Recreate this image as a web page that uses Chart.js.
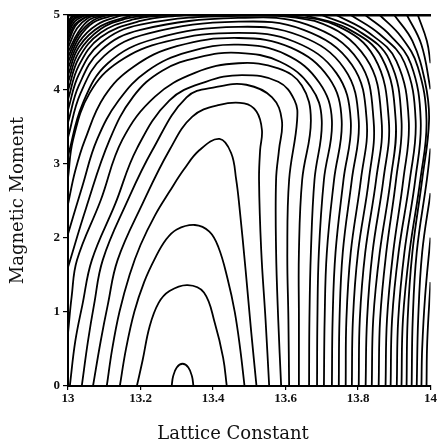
<!DOCTYPE html>
<html>
<head>
<meta charset="utf-8">
<script src="https://cdn.jsdelivr.net/npm/chart.js@4.4.0/dist/chart.umd.min.js"></script>
<style>
    html, body { margin: 0; padding: 0; background: #fff; }
</style>
</head>
<body>
<canvas id="contourChart" width="438" height="447"></canvas>
<script>
// 축 눈금
var xTickLabels = ['13', '13.2', '13.4', '13.6', '13.8', '14'];
var yTickLabels = ['0', '1', '2', '3', '4', '5'];
var xTitle = 'Lattice Constant';
var yTitle = 'Magnetic Moment';

// 등고선 [lattice constant, magnetic moment]
var c1 = [[13.286,0],[13.29,0.13],[13.30,0.25],[13.316,0.30],[13.332,0.25],[13.342,0.13],[13.346,0]];
var c2 = [[13.19,0],[13.206,0.35],[13.225,0.8],[13.25,1.12],[13.28,1.28],[13.33,1.36],[13.375,1.26],[13.405,0.85],[13.428,0.38],[13.438,0]];
var c3 = [[13.143,0],[13.16,0.5],[13.183,1.0],[13.21,1.4],[13.24,1.72],[13.27,1.97],[13.3,2.11],[13.35,2.17],[13.39,2.08],[13.415,1.87],[13.44,1.45],[13.46,1.0],[13.475,0.5],[13.487,0]];
var c4 = [[13.107,0],[13.122,0.5],[13.142,1.0],[13.17,1.5],[13.2,1.9],[13.24,2.3],[13.28,2.62],[13.32,2.92],[13.363,3.18],[13.418,3.33],[13.45,3.14],[13.464,2.78],[13.473,2.41],[13.49,1.56],[13.505,0.75],[13.52,0]];
var c5 = [[13.069,0],[13.09,0.6],[13.11,1.1],[13.137,1.7],[13.205,2.45],[13.28,3.18],[13.343,3.63],[13.418,3.79],[13.486,3.81],[13.52,3.7],[13.535,3.45],[13.53,3.18],[13.527,2.78],[13.533,1.83],[13.545,0.89],[13.555,0]];
var c6 = [[13.038,0],[13.055,0.6],[13.072,1.1],[13.096,1.7],[13.16,2.45],[13.233,3.18],[13.327,3.89],[13.41,4.03],[13.492,4.06],[13.563,3.89],[13.59,3.58],[13.582,3.18],[13.574,2.78],[13.574,1.83],[13.58,0.89],[13.588,0]];
var c7 = [[13.005,0],[13.02,0.6],[13.04,1.1],[13.066,1.7],[13.13,2.45],[13.19,3.2],[13.28,3.85],[13.38,4.1],[13.48,4.19],[13.58,4.1],[13.625,3.85],[13.632,3.58],[13.61,2.78],[13.605,1.8],[13.608,0.9],[13.61,0]];
var c8 = [[13.0,0.71],[13.01,1.2],[13.025,1.7],[13.09,2.5],[13.15,3.32],[13.24,3.9],[13.35,4.22],[13.47,4.35],[13.58,4.28],[13.645,4.05],[13.67,3.58],[13.646,2.78],[13.637,1.8],[13.637,0.9],[13.637,0]];
var c9 = [[13.0,1.6],[13.05,2.4],[13.115,3.32],[13.18,3.9],[13.26,4.25],[13.36,4.43],[13.47,4.49],[13.585,4.37],[13.67,4.03],[13.70,3.58],[13.68,2.78],[13.67,1.8],[13.666,0.9],[13.665,0]];
var c10 = [[13.0,2.05],[13.04,2.7],[13.08,3.32],[13.14,3.85],[13.22,4.25],[13.33,4.5],[13.47,4.6],[13.6,4.47],[13.693,4.09],[13.728,3.58],[13.706,2.78],[13.692,1.8],[13.688,0.9],[13.687,0]];
var c11 = [[13.0,2.45],[13.02,2.9],[13.047,3.32],[13.1,3.9],[13.18,4.3],[13.3,4.58],[13.47,4.69],[13.615,4.56],[13.72,4.15],[13.755,3.58],[13.734,2.78],[13.714,1.8],[13.708,0.9],[13.706,0]];
var c12 = [[13.0,2.8],[13.014,3.32],[13.06,3.95],[13.14,4.37],[13.27,4.64],[13.47,4.76],[13.625,4.64],[13.74,4.22],[13.78,3.58],[13.76,2.78],[13.738,1.8],[13.73,0.9],[13.728,0]];
var c13 = [[13.0,3.1],[13.04,3.8],[13.11,4.35],[13.24,4.68],[13.47,4.84],[13.64,4.72],[13.762,4.28],[13.802,3.58],[13.783,2.78],[13.758,1.8],[13.749,0.9],[13.747,0]];
var c14 = [[13.0,3.35],[13.035,3.95],[13.1,4.45],[13.22,4.75],[13.47,4.91],[13.65,4.8],[13.783,4.33],[13.824,3.58],[13.808,2.78],[13.78,1.8],[13.768,0.9],[13.766,0]];
var c15 = [[13.0,3.55],[13.03,4.05],[13.09,4.52],[13.2,4.8],[13.47,4.96],[13.66,4.87],[13.802,4.38],[13.843,3.58],[13.83,2.78],[13.8,1.8],[13.786,0.9],[13.783,0]];
var c16 = [[13.0,3.72],[13.03,4.2],[13.09,4.62],[13.2,4.87],[13.47,4.99],[13.68,4.92],[13.822,4.42],[13.865,3.58],[13.85,2.78],[13.82,1.8],[13.805,0.9],[13.802,0]];

// 위쪽 경계에서 끊기는 등고선
var c17Left = [[13.0,3.86],[13.03,4.32],[13.09,4.7],[13.2,4.92],[13.32,5.0]];
var c17Right = [[13.6,5.0],[13.74,4.86],[13.845,4.43],[13.885,3.58],[13.87,2.78],[13.84,1.8],[13.825,0.9],[13.821,0]];
var c18Left = [[13.0,3.98],[13.03,4.42],[13.09,4.76],[13.18,4.94],[13.27,5.0]];
var c18Right = [[13.65,5.0],[13.77,4.82],[13.866,4.42],[13.904,3.58],[13.89,2.78],[13.86,1.8],[13.842,0.9],[13.838,0]];
var c19Left = [[13.0,4.09],[13.03,4.5],[13.09,4.81],[13.16,4.95],[13.23,5.0]];
var c19Right = [[13.7,5.0],[13.8,4.79],[13.886,4.4],[13.92,3.58],[13.905,2.78],[13.878,1.8],[13.861,0.9],[13.857,0]];
var c20Left = [[13.0,4.19],[13.03,4.57],[13.09,4.85],[13.18,5.0]];
var c20Right = [[13.74,5.0],[13.83,4.76],[13.906,4.38],[13.94,3.58],[13.925,2.78],[13.897,1.8],[13.88,0.9],[13.876,0]];
var c21Left = [[13.0,4.28],[13.03,4.63],[13.08,4.87],[13.15,5.0]];
var c21Right = [[13.78,5.0],[13.86,4.74],[13.928,4.36],[13.959,3.58],[13.943,2.78],[13.912,1.8],[13.894,0.9],[13.89,0]];
var c22Left = [[13.0,4.36],[13.03,4.69],[13.07,4.9],[13.13,5.0]];
var c22Right = [[13.82,5.0],[13.89,4.72],[13.946,4.34],[13.973,3.58],[13.958,2.78],[13.928,1.8],[13.911,0.9],[13.907,0]];
var c23Left = [[13.0,4.43],[13.03,4.74],[13.07,4.93],[13.11,5.0]];
var c23Right = [[13.86,5.0],[13.92,4.7],[13.965,4.3],[13.989,3.58],[13.972,2.78],[13.942,1.8],[13.924,0.9],[13.92,0]];
var c24Left = [[13.0,4.5],[13.03,4.78],[13.06,4.94],[13.1,5.0]];
var c24Right = [[13.9,5.0],[13.95,4.65],[13.985,4.1],[13.996,3.58],[13.977,2.78],[13.95,1.8],[13.937,0.9],[13.934,0]];
var c25Left = [[13.0,4.56],[13.025,4.82],[13.055,4.96],[13.085,5.0]];
var c25Right = [[13.935,5.0],[13.975,4.6],[14.0,4.0]];
var c25Low = [[14.0,3.2],[13.99,2.78],[13.962,1.8],[13.951,0.9],[13.948,0]];
var c26Left = [[13.0,4.62],[13.02,4.85],[13.045,4.96],[13.07,5.0]];
var c26Right = [[13.965,5.0],[13.99,4.65],[14.0,4.35]];
var c26Low = [[14.0,2.6],[13.977,1.8],[13.966,0.9],[13.962,0]];
var c27Left = [[13.0,4.67],[13.02,4.88],[13.06,5.0]];
var c27Low = [[14.0,2.0],[13.985,1.2],[13.977,0.5],[13.975,0]];
var c28Left = [[13.0,4.72],[13.018,4.91],[13.05,5.0]];
var c28Low = [[14.0,1.4],[13.991,0.6],[13.989,0]];
var c29Left = [[13.0,4.76],[13.015,4.93],[13.042,5.0]];
var c30Left = [[13.0,4.8],[13.012,4.94],[13.035,5.0]];
var c31Left = [[13.0,4.84],[13.01,4.96],[13.028,5.0]];
var c32Left = [[13.0,4.88],[13.008,4.97],[13.02,5.0]];

var contourLines = [c1, c2, c3, c4, c5, c6, c7, c8, c9, c10, c11, c12, c13, c14, c15, c16,
    c17Left, c17Right, c18Left, c18Right, c19Left, c19Right, c20Left, c20Right,
    c21Left, c21Right, c22Left, c22Right, c23Left, c23Right, c24Left, c24Right,
    c25Left, c25Right, c25Low, c26Left, c26Right, c26Low, c27Left, c27Low, c28Left, c28Low,
    c29Left, c30Left, c31Left, c32Left];

var serif = '"DejaVu Serif", "Liberation Serif", serif';

// x 축 제목 (가운데보다 약간 왼쪽)
var xTitlePlugin = {
    id: 'xTitlePlugin',
    afterDraw: function(chart) {
        var ctx = chart.ctx;
        ctx.save();
        ctx.font = '18px ' + serif;
        ctx.fillStyle = '#111';
        ctx.textAlign = 'center';
        ctx.textBaseline = 'middle';
        ctx.fillText(xTitle, 233, 434);
        ctx.restore();
    }
};

document.addEventListener("DOMContentLoaded", function() {
    var datasets = [];
    for (var i = 0; i < contourLines.length; i++) {
        datasets.push({
            data: contourLines[i].map(function(p) { return {x: p[0], y: p[1]}; }),
            borderColor: '#000',
            borderWidth: 1.8,
            pointRadius: 0,
            fill: false,
            tension: 0.4
        });
    }

    var tickFont = { family: '"Liberation Serif", serif', size: 13, weight: 'bold' };
    var ctx = document.getElementById('contourChart').getContext('2d');
    new Chart(ctx, {
        type: 'line',
        data: { datasets: datasets },
        plugins: [xTitlePlugin],
        options: {
            responsive: false,
            animation: false,
            layout: { padding: { top: 15, right: 6, left: 0, bottom: 0 } },
            plugins: {
                legend: { display: false },
                tooltip: { enabled: false }
            },
            scales: {
                x: {
                    type: 'linear',
                    min: 13,
                    max: 14,
                    afterBuildTicks: function(axis) {
                        axis.ticks = xTickLabels.map(function(t) { return {value: parseFloat(t)}; });
                    },
                    afterFit: function(axis) { axis.height = 61; },
                    ticks: {
                        callback: function(v, idx) { return xTickLabels[idx]; },
                        font: tickFont,
                        color: '#111',
                        padding: 1,
                        maxRotation: 0
                    },
                    grid: { drawOnChartArea: false, color: '#000', tickLength: 4, lineWidth: 1.2 },
                    border: { color: '#000', width: 2 }
                },
                xTop: {
                    type: 'linear',
                    position: 'top',
                    min: 13,
                    max: 14,
                    afterFit: function(axis) { axis.height = 0; },
                    ticks: { display: false },
                    grid: { display: true, drawOnChartArea: false, drawTicks: false },
                    border: { color: '#000', width: 2.5 }
                },
                y: {
                    min: 0,
                    max: 5,
                    afterBuildTicks: function(axis) {
                        axis.ticks = yTickLabels.map(function(t) { return {value: parseFloat(t)}; });
                    },
                    afterFit: function(axis) { axis.width = 68; },
                    ticks: {
                        callback: function(v, idx) { return yTickLabels[idx]; },
                        font: tickFont,
                        color: '#111',
                        padding: 3
                    },
                    title: {
                        display: true,
                        text: yTitle,
                        font: { family: serif, size: 18 },
                        color: '#111',
                        padding: { top: 8, bottom: 0 }
                    },
                    grid: { drawOnChartArea: false, color: '#000', tickLength: 5, lineWidth: 1.2 },
                    border: { color: '#000', width: 2 }
                }
            }
        }
    });
});
</script>
</body>
</html>
